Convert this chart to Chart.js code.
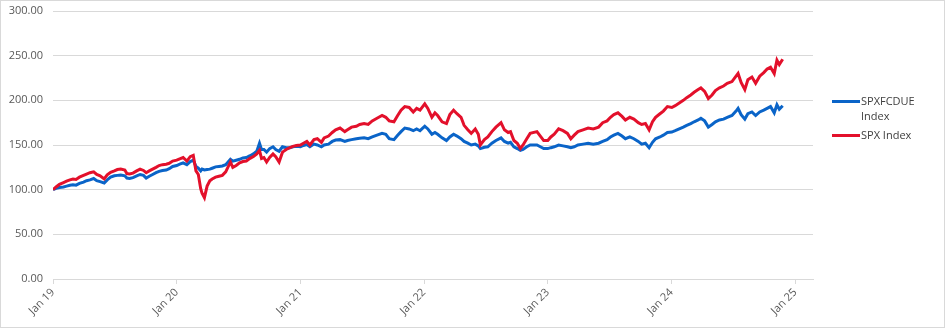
<!DOCTYPE html>
<html>
<head>
<meta charset="utf-8">
<script src="https://cdn.jsdelivr.net/npm/chart.js@4/dist/chart.umd.min.js"></script>
<style>
  html, body { margin: 0; padding: 0; background: #fff; }
  #wrap { position: relative; width: 945px; height: 328px; }
  #c { position: absolute; left: 0; top: 0; }
  #legend { position: absolute; left: 832px; top: 93px; font-family: "Open Sans", sans-serif; font-size: 11px; color: #404040; line-height: 15px; }
  .item { position: relative; padding-left: 29px; width: 70px; margin-bottom: 4px; }
  .swatch { position: absolute; left: 0; top: 7px; width: 28px; height: 3px; }
</style>
</head>
<body>
<div id="wrap">
  <canvas id="c" width="945" height="328"></canvas>
  <div id="legend"></div>
</div>
<script>
const seriesNames = ["SPXFCDUE Index", "SPX Index"];
const tickYears = [2019, 2020, 2021, 2022, 2023, 2024, 2025];
const tickLabels = ["Jan 19", "Jan 20", "Jan 21", "Jan 22", "Jan 23", "Jan 24", "Jan 25"];

const dates = [
"2019-01-01","2019-01-10","2019-01-20","2019-02-01","2019-02-10","2019-02-20","2019-03-01","2019-03-10","2019-03-20",
"2019-04-01","2019-04-10","2019-04-20","2019-05-01","2019-05-10","2019-05-20","2019-06-01","2019-06-10","2019-06-20",
"2019-07-01","2019-07-10","2019-07-20","2019-08-01","2019-08-07","2019-08-15","2019-08-25","2019-09-05","2019-09-15",
"2019-09-25","2019-10-03","2019-10-12","2019-10-22","2019-11-01","2019-11-10","2019-11-20","2019-12-01","2019-12-10","2019-12-20",
"2020-01-01","2020-01-10","2020-01-20","2020-01-31","2020-02-10","2020-02-19","2020-02-27","2020-03-05","2020-03-12",
"2020-03-16","2020-03-23","2020-03-31","2020-04-08","2020-04-15","2020-04-25","2020-05-05","2020-05-15","2020-05-25",
"2020-06-08","2020-06-15","2020-06-25","2020-07-05","2020-07-15","2020-07-25","2020-08-05","2020-08-15","2020-08-25",
"2020-09-02","2020-09-08","2020-09-15","2020-09-23","2020-10-02","2020-10-12","2020-10-20","2020-10-30","2020-11-09",
"2020-11-20","2020-12-01","2020-12-10","2020-12-20",
"2021-01-01","2021-01-10","2021-01-20","2021-01-29","2021-02-10","2021-02-20","2021-03-04","2021-03-12","2021-03-25",
"2021-04-05","2021-04-15","2021-04-28","2021-05-12","2021-05-20","2021-06-01","2021-06-15","2021-06-25","2021-07-08",
"2021-07-20","2021-08-01","2021-08-15","2021-08-30","2021-09-10","2021-09-20","2021-10-04","2021-10-15","2021-10-25",
"2021-11-05","2021-11-18","2021-11-30","2021-12-10","2021-12-20",
"2022-01-03","2022-01-12","2022-01-24","2022-02-02","2022-02-10","2022-02-23","2022-03-08","2022-03-18","2022-03-29",
"2022-04-08","2022-04-20","2022-04-29","2022-05-10","2022-05-20","2022-06-01","2022-06-10","2022-06-16","2022-06-28",
"2022-07-08","2022-07-20","2022-08-01","2022-08-16","2022-08-26","2022-09-06","2022-09-13","2022-09-23","2022-10-03",
"2022-10-12","2022-10-20","2022-10-31","2022-11-10","2022-11-30","2022-12-10","2022-12-20",
"2023-01-01","2023-01-10","2023-01-20","2023-02-02","2023-02-15","2023-02-28","2023-03-10","2023-03-20","2023-03-31",
"2023-04-15","2023-04-30","2023-05-15","2023-05-31","2023-06-12","2023-06-25","2023-07-05","2023-07-15","2023-07-27",
"2023-08-08","2023-08-18","2023-08-31","2023-09-12","2023-09-25","2023-10-05","2023-10-16","2023-10-27","2023-11-06",
"2023-11-15","2023-11-28","2023-12-08","2023-12-20",
"2024-01-02","2024-01-12","2024-01-24","2024-02-05","2024-02-15","2024-02-27","2024-03-08","2024-03-20","2024-03-28",
"2024-04-08","2024-04-19","2024-04-30","2024-05-10","2024-05-22","2024-06-03","2024-06-14","2024-06-28","2024-07-10",
"2024-07-16","2024-07-25","2024-08-05","2024-08-14","2024-08-26","2024-09-06","2024-09-18","2024-09-30","2024-10-10",
"2024-10-20","2024-10-31","2024-11-08","2024-11-15","2024-11-25"
];

const spxfcdue = [
100,101.5,102.5,103,104,105,105.5,105,107,
108.5,110,111,112.5,110,109,107.5,111,114,
115.5,116,116.5,115.5,113,112.5,113.5,115.5,117,
116,113,115,117,119,120.5,121.5,122,123.5,126,
127,128.5,130,128,131.5,133,126,124,121,
123,122,122.5,123,124,125.5,126,126.5,128,
134,132,133,134,135.5,136,138,140,143,
152,145,145,142,146,148,145,143,148,
147,147,148,148.5,
148,149.5,150.5,148,151,150,148,150,151,
154,155.5,156,154,155,156,157,157.5,158,
157,159,161,163,162,157,156,161,165,
169,168,166,168,166,
171,168,162,164,162,158,155,159,162,
160,157,154,152,150,151,149,146,147.5,
148,152,155,158,154,152,153,148,146,
144,145,148,150,150,148,146,
146,147,148,150,149,148,147,148,150,
151,152,151,152,154,156,159,161,163,
160,157,159,157,154,151,152,147,153,
157,159,161,164,
164.5,166,168,170,172,174,176,178,180,
177,170,173,176,178,179,181,183,188,
191,184,179,185,187,183,187,189,191,
193,186,195,190,194
];

const spx = [
100,103,106,108,109.5,111,112,111.5,114,
116,117.5,119,120,117,115.5,112,116.5,119.5,
121,122.5,123,122,118,117.5,118.5,121,123,
121.5,119,121,123,125,127,128,128.5,129.5,132,
133,134.5,136,132,137,138.5,121,117,101,
96,91,104,110,112,114,115,116,120,
131,125,127,130,131.5,132,135,137,140,
144,135,136,131,136,140,137,131,142,
145,147,148.5,149.5,
150,152,154,150,156,157,153,158,160,
164,167,169,165,167,170,171,173,174,
173,177,180,183,181,177,176,183,189,
193,192,187,191,189,
196,191,181,186,183,176,174,184,189,
185,181,172,167,163,168,162,150,156,
159,165,170,175,167,164,165,155,152,
146,150,157,163,165,160,155,
155,159,162,168,166,163,157,161,165,
167,169,168,170,175,177,181,184,186,
182,178,181,179,175,173,174,167,176,
181,185,188,193,
192,194,197,200,203,206,209,212,214,
210,202,206,211,214,216,219,221,227,
230,220,212,223,226,219,227,231,235,
237,230,245,240,246
];

function toYear(s) {
  const [y, m, d] = s.split("-").map(Number);
  const a = Date.UTC(y, 0, 1), b = Date.UTC(y + 1, 0, 1);
  return y + (Date.UTC(y, m - 1, d) - a) / (b - a);
}
const xs = dates.map(toYear);
const colors = ["#0a64c8", "#e3102b"];

const borderPlugin = {
  id: "outerBorder",
  afterDraw(chart) {
    const ctx = chart.ctx;
    ctx.save();
    ctx.strokeStyle = "#d9d9d9";
    ctx.lineWidth = 1;
    ctx.strokeRect(0.5, 0.5, chart.width - 1, chart.height - 1);
    ctx.restore();
  }
};

Chart.defaults.font.family = '"Open Sans", sans-serif';
Chart.defaults.font.size = 11;
Chart.defaults.color = "#595959";

new Chart(document.getElementById("c"), {
  type: "line",
  data: {
    datasets: [
      { label: seriesNames[0], data: xs.map((x, i) => ({ x, y: spxfcdue[i] })), borderColor: colors[0], backgroundColor: colors[0], borderWidth: 3, pointRadius: 0, tension: 0, order: 1 },
      { label: seriesNames[1], data: xs.map((x, i) => ({ x, y: spx[i] })), borderColor: colors[1], backgroundColor: colors[1], borderWidth: 3, pointRadius: 0, tension: 0, order: 0 }
    ]
  },
  options: {
    responsive: false,
    animation: false,
    layout: { padding: { left: 0, right: 132, top: 11, bottom: 0 } },
    plugins: { legend: { display: false }, tooltip: { enabled: false } },
    scales: {
      x: {
        type: "linear",
        min: 2019,
        max: 2025.144,
        afterBuildTicks(scale) { scale.ticks = tickYears.map(v => ({ value: v })); },
        afterFit(scale) { scale.height = 49; scale.paddingTop = 0; scale.paddingBottom = 0; },
        ticks: { autoSkip: false, minRotation: 45, maxRotation: 45, padding: 2, callback: (v, i) => tickLabels[i] },
        grid: { drawOnChartArea: false, drawTicks: true, tickLength: 5, color: "#d9d9d9" },
        border: { display: true, color: "#d9d9d9" }
      },
      y: {
        min: 0,
        max: 300,
        afterFit(scale) { scale.width = 53; scale.paddingTop = 0; scale.paddingBottom = 0; },
        ticks: { stepSize: 50, padding: 10, callback: v => Number(v).toFixed(2) },
        grid: { drawTicks: false, color: "#d9d9d9" },
        border: { display: false }
      }
    }
  },
  plugins: [borderPlugin]
});

const legend = document.getElementById("legend");
seriesNames.forEach((name, i) => {
  const item = document.createElement("div");
  item.className = "item";
  const sw = document.createElement("div");
  sw.className = "swatch";
  sw.style.background = colors[i];
  item.appendChild(sw);
  item.appendChild(document.createTextNode(name));
  legend.appendChild(item);
});
</script>
</body>
</html>
